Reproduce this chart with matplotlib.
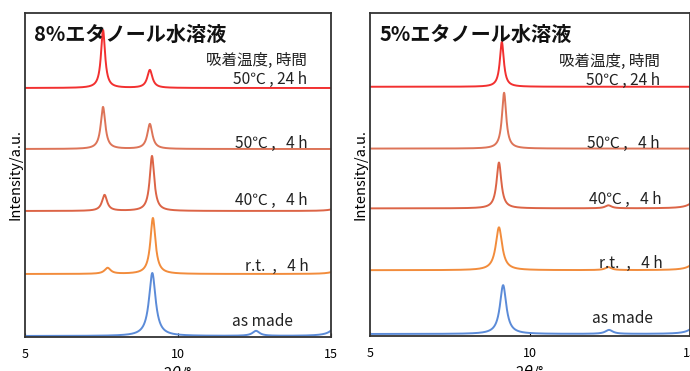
import numpy as np
import matplotlib
matplotlib.use('Agg')
import matplotlib.pyplot as plt

plt.rcParams['font.family'] = ['Noto Sans CJK JP', 'DejaVu Sans']

# --------------------------------------------------------------
# data
# each curve: baseline offset (a.u.), peaks as (2theta, height, hwhm)
labels = ['as made', 'r.t.  ,   4 h', '40℃ ,   4 h', '50℃ ,   4 h', '50℃ , 24 h']
colors = ['#5b8bd8', '#f28c3c', '#dc6446', '#dd7458', '#f23030']

# 8% ethanol
offsets_8 = [1, 63, 126, 188, 249]
peaks_8 = [
    [(9.16, 63, 0.13), (12.55, 5, 0.14), (15.25, 14, 0.2)],
    [(7.70, 6, 0.12), (9.18, 56, 0.10), (15.3, 6, 0.2)],
    [(7.60, 16, 0.10), (9.15, 55, 0.09), (15.3, 5, 0.2)],
    [(7.55, 42, 0.09), (9.08, 25, 0.10)],
    [(7.55, 58, 0.08), (9.08, 18, 0.10)],
]

# 5% ethanol
offsets_5 = [2, 66, 128, 188, 250]
peaks_5 = [
    [(9.16, 49, 0.12), (12.47, 4, 0.14), (15.25, 12, 0.2)],
    [(9.03, 43, 0.12), (12.45, 3, 0.12), (15.25, 12, 0.2)],
    [(9.03, 46, 0.09), (12.45, 3, 0.12), (15.25, 12, 0.2)],
    [(9.19, 56, 0.08)],
    [(9.12, 45, 0.075)],
]

# label positions (2theta of right edge, a.u.)
text_x_8 = [13.76, 14.28, 14.22, 14.22, 14.22]
text_y_8 = [16, 71, 137, 194, 258]
text_x_5 = [13.84, 14.16, 14.12, 14.06, 14.06]
text_y_5 = [18, 73, 137, 193, 256]

two_theta = np.linspace(4.8, 15.2, 3000)


def pattern(peaks):
    y = np.zeros_like(two_theta)
    for pos, h, w in peaks:
        y += h * w**2 / ((two_theta - pos)**2 + w**2)
    return y


def draw_panel(ax, title, offsets, peaks, text_x, text_y, head_x):
    for off, pk, c in zip(offsets, peaks, colors):
        ax.plot(two_theta, off + pattern(pk), color=c, lw=1.4)
    for lab, tx, ty in zip(labels, text_x, text_y):
        ax.text(tx, ty, lab, ha='right', va='center', fontsize=11.2, color='#222222')
    ax.text(head_x, text_y[-1] + 19, '吸着温度, 時間', ha='right', va='center',
            fontsize=11.2, color='#222222')
    ax.text(0.03, 0.965, title, transform=ax.transAxes, ha='left', va='top',
            fontsize=14.5, fontweight='bold', color='#111111')
    ax.set_xlim(5, 15)
    ax.set_ylim(0, 324)
    ax.set_xticks([5, 10, 15])
    ax.set_yticks([])
    ax.tick_params(axis='x', direction='in', length=3, labelsize=9, pad=8)
    for s in ax.spines.values():
        s.set_linewidth(1.3)
        s.set_color('#333333')
    ax.set_xlabel('2$\\theta$/°', fontsize=10.5, labelpad=2)
    ax.set_ylabel('Intensity/a.u.', fontsize=10.5, labelpad=2)


fig = plt.figure(figsize=(6.9, 3.71), dpi=100)
ax1 = fig.add_axes([25 / 690, 34 / 371, 306 / 690, 324 / 371])
ax2 = fig.add_axes([370 / 690, 35 / 371, 320 / 690, 323 / 371])

draw_panel(ax1, '8%エタノール水溶液', offsets_8, peaks_8, text_x_8, text_y_8, 14.22)
draw_panel(ax2, '5%エタノール水溶液', offsets_5, peaks_5, text_x_5, text_y_5, 14.06)

fig.savefig('out.png', dpi=100)
